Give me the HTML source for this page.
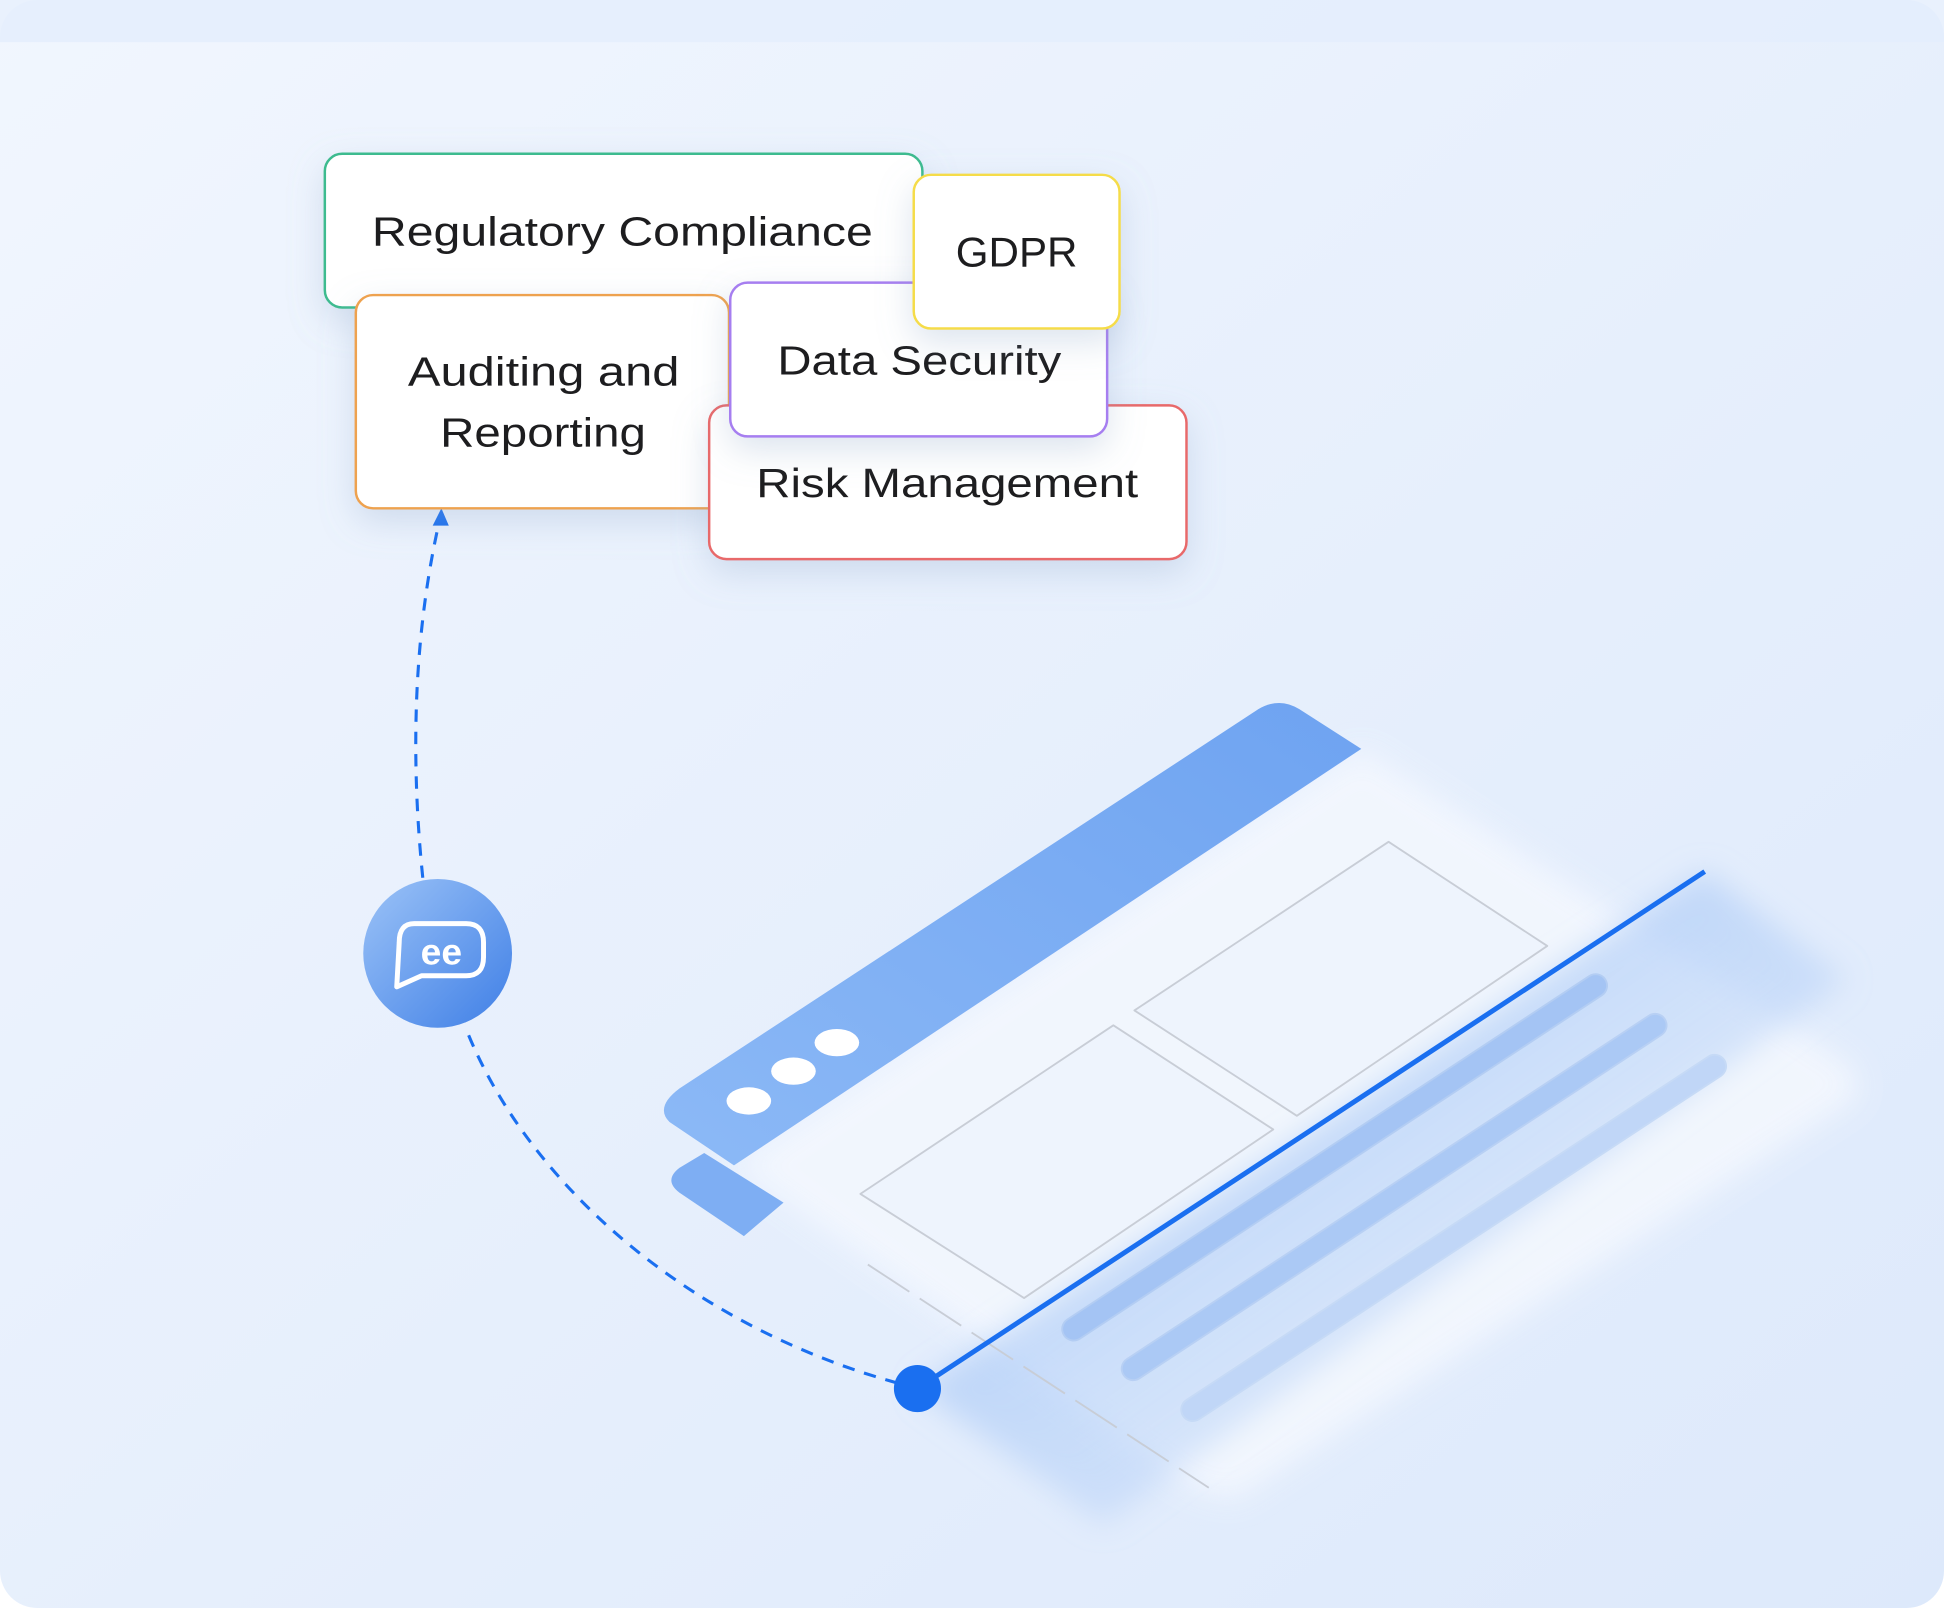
<!DOCTYPE html>
<html><head><meta charset="utf-8">
<style>
html,body{margin:0;padding:0;background:#fff;}
svg{display:block;}
text{font-family:"Liberation Sans",sans-serif;fill:#1d1d1f;}
</style></head>
<body>
<svg width="1944" height="1608" viewBox="0 0 1568 1297" preserveAspectRatio="none" xmlns="http://www.w3.org/2000/svg">
<defs>
<linearGradient id="bg" x1="0" y1="0" x2="1" y2="1">
<stop offset="0" stop-color="#f1f6fe"/><stop offset="1" stop-color="#dde9fb"/>
</linearGradient>
<linearGradient id="bar" x1="0" y1="1" x2="1" y2="0">
<stop offset="0" stop-color="#8cb9f6"/><stop offset="1" stop-color="#6ea3f1"/>
</linearGradient>
<linearGradient id="circ" x1="0" y1="0" x2="1" y2="1">
<stop offset="0" stop-color="#9cc3f7"/><stop offset="1" stop-color="#3f7fe6"/>
</linearGradient>
<linearGradient id="shade" x1="0" y1="0" x2="1" y2="1">
<stop offset="0" stop-color="#8db8f4" stop-opacity="0.9"/><stop offset="1" stop-color="#c9dcf9" stop-opacity="0.1"/>
</linearGradient>
<filter id="sh" x="-20%" y="-20%" width="140%" height="160%"><feDropShadow dx="0" dy="10" stdDeviation="14" flood-color="#8aa4c8" flood-opacity="0.3"/></filter>
<filter id="blur"><feGaussianBlur stdDeviation="12"/></filter>
</defs>
<rect x="0" y="0" width="1568" height="1297" rx="30" fill="url(#bg)"/>
<rect x="0" y="0" width="1568" height="34" fill="#e4eefc" opacity="0.8"/>

<polygon points="592,940 1098,604 1495,860 1500,885 995,1210 960,1200" fill="#f4f8fe" opacity="0.85" filter="url(#blur)"/>
<polygon points="740,1120 1375,703 1490,790 890,1230" fill="url(#shade)" filter="url(#blur)"/>
<path d="M548,878 L1015,572 Q1032,562 1048,572 L1098,604 L592,940 L540,905 Q528,893 548,878 Z" fill="url(#bar)"/>
<ellipse cx="604" cy="888" rx="18" ry="11" fill="#fff"/>
<ellipse cx="640" cy="864" rx="18" ry="11" fill="#fff"/>
<ellipse cx="675" cy="841" rx="18" ry="11" fill="#fff"/>
<path d="M548,942 L568,930 L632,970 L600,997 L548,962 Q535,952 548,942 Z" fill="#7eaef3"/>
<path d="M694,963 L898,827 L1027,911 L826,1047 Z" fill="#eef4fd" stroke="#c8cdd6" stroke-width="1.5" stroke-linejoin="round"/>
<path d="M915,815 L1120,679 L1248,763 L1046,900 Z" fill="#eef4fd" stroke="#c8cdd6" stroke-width="1.5" stroke-linejoin="round"/>
<path d="M700,1020 L975,1200" stroke="#c8cdd6" stroke-width="1.5" stroke-dasharray="40 10" fill="none"/>
<g stroke-linecap="round" fill="none">
<line x1="866" y1="1072" x2="1287" y2="795" stroke="#b3cdf3" stroke-width="20"/>
<line x1="866" y1="1072" x2="1287" y2="795" stroke="#a4c4f4" stroke-width="17"/>
<line x1="914" y1="1104" x2="1335" y2="827" stroke="#b8d0f4" stroke-width="20"/>
<line x1="914" y1="1104" x2="1335" y2="827" stroke="#abc9f5" stroke-width="17"/>
<line x1="962" y1="1137" x2="1383" y2="860" stroke="#c6daf6" stroke-width="20"/>
<line x1="962" y1="1137" x2="1383" y2="860" stroke="#c0d6f7" stroke-width="17"/>
</g>
<line x1="740" y1="1120" x2="1375" y2="703" stroke="#1a6ff0" stroke-width="4"/>

<path d="M341,708 C332,620 332,520 354,422" fill="none" stroke="#1a6ff0" stroke-width="2.5" stroke-dasharray="10 8"/>
<polygon points="356,410 349,424 362,424" fill="#1a6ff0"/>
<path d="M378,835 C430,960 560,1070 722,1115" fill="none" stroke="#1a6ff0" stroke-width="2.5" stroke-dasharray="10 8"/>
<circle cx="740" cy="1120" r="19" fill="#1a6ff0"/>

<circle cx="353" cy="769" r="60" fill="url(#circ)"/>
<path d="M334,745 L376,745 Q390,745 390,760 L390,772 Q390,787 376,787 L340,787 L320,796 L322,760 Q322,745 334,745 Z" fill="none" stroke="#fff" stroke-width="4" stroke-linejoin="round"/>
<text x="356" y="778" font-size="30" font-weight="bold" text-anchor="middle" style="fill:#fff">ee</text>

<rect x="262" y="124" width="482" height="124" rx="14" fill="#fff" stroke="#3dbb8f" stroke-width="2" filter="url(#sh)"/>
<text x="300" y="198" font-size="33" textLength="404" lengthAdjust="spacingAndGlyphs">Regulatory Compliance</text>
<rect x="287" y="238" width="301" height="172" rx="14" fill="#fff" stroke="#eea24f" stroke-width="2" filter="url(#sh)"/>
<text x="329" y="311" font-size="33" textLength="219" lengthAdjust="spacingAndGlyphs">Auditing and</text>
<text x="355" y="360" font-size="33" textLength="166" lengthAdjust="spacingAndGlyphs">Reporting</text>
<rect x="572" y="327" width="385" height="124" rx="14" fill="#fff" stroke="#e8696b" stroke-width="2" filter="url(#sh)"/>
<text x="610" y="401" font-size="33" textLength="308" lengthAdjust="spacingAndGlyphs">Risk Management</text>
<rect x="589" y="228" width="304" height="124" rx="14" fill="#fff" stroke="#a67ef0" stroke-width="2" filter="url(#sh)"/>
<text x="627" y="302" font-size="33" textLength="229" lengthAdjust="spacingAndGlyphs">Data Security</text>
<rect x="737" y="141" width="166" height="124" rx="14" fill="#fff" stroke="#f5dc48" stroke-width="2" filter="url(#sh)"/>
<text x="820" y="215" font-size="34" text-anchor="middle">GDPR</text>
</svg>
</body></html>
